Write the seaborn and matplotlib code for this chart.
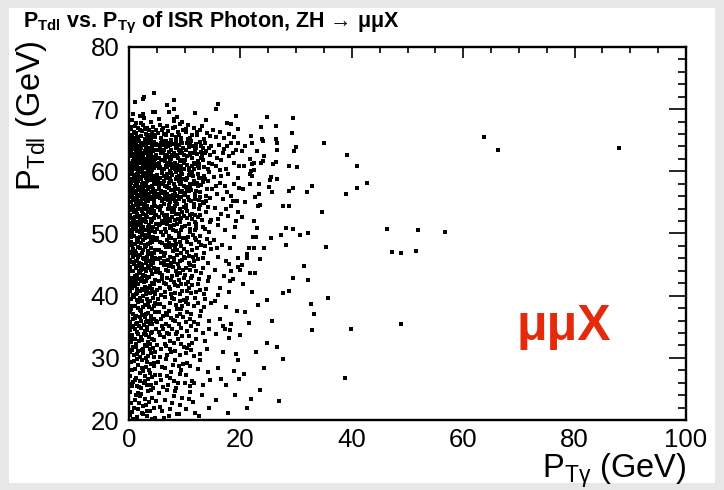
import numpy as np
import pandas as pd
import matplotlib
matplotlib.use("Agg")
import matplotlib.pyplot as plt
from matplotlib.ticker import MultipleLocator
from matplotlib.patches import Rectangle
import seaborn as sns

# ---------------- data (P_T gamma [GeV], P_T dilepton [GeV]) ----------------
core_a = [  # x 0-5, y >= 50
(4.4,72.6),(2.7,72.0),(2.5,71.6),(1.0,71.2),(0.7,69.2),(2.5,69.2),(4.3,69.6),(4.7,69.6),(2.7,68.5),
(0.3,66.8),(0.8,65.4),(1.2,66.1),(1.6,67.0),(2.1,65.7),(2.4,66.5),(2.9,65.2),(3.3,66.9),(3.7,65.9),(4.1,66.3),(4.6,65.5),(0.5,65.9),(1.0,67.3),(1.9,66.6),(2.6,67.4),(3.0,66.0),(3.5,65.4),(4.3,67.1),(4.8,66.6),(0.2,65.2),(1.4,65.6),(2.2,67.8),(3.9,68.0),(0.6,68.3),(1.7,65.1),(2.8,66.8),(3.2,65.6),(4.5,65.9),(0.9,66.4),(1.3,67.7),(0.4,67.2),(3.6,66.6),(2.0,68.9),(4.0,65.2),
(0.2,64.7),(0.5,63.9),(0.8,62.8),(1.1,64.2),(1.4,61.5),(1.7,63.4),(2.0,60.6),(2.3,62.1),(2.6,64.5),(2.9,61.2),(3.2,63.0),(3.5,60.3),(3.8,62.6),(4.1,64.0),(4.4,61.8),(4.7,63.5),(0.3,61.0),(0.6,60.2),(0.9,64.9),(1.2,60.9),(1.5,62.7),(1.8,64.8),(2.1,63.7),(2.4,60.1),(2.7,62.9),(3.0,64.1),(3.3,61.6),(3.6,63.8),(3.9,60.8),(4.2,62.3),(4.5,60.5),(4.8,64.4),(0.1,62.4),(0.4,63.1),(0.7,61.7),(1.0,63.6),(1.3,62.2),(1.6,60.4),(1.9,61.9),(2.2,64.3),(2.5,61.0),(2.8,63.3),(3.1,60.7),(3.4,62.4),(3.7,64.6),(4.0,61.3),(4.3,63.2),(4.6,62.0),(4.9,61.1),(0.4,64.3),(0.9,62.0),(1.3,63.9),(1.8,61.3),(2.2,62.6),(2.7,60.5),(3.1,62.0),(3.6,61.1),(4.0,63.4),(4.4,64.7),(0.6,62.6),(1.1,61.9),(1.5,64.0),(2.0,62.9),(2.4,63.0),(2.9,64.2),(3.3,64.9),(3.8,61.5),(4.2,60.2),(0.2,60.9),(0.8,60.5),(1.6,62.3),(2.6,61.6),(3.5,63.3),(4.7,60.9),(1.2,64.5),
(0.3,63.5),(0.7,64.1),(1.2,62.9),(1.7,60.1),(2.3,61.3),(2.8,64.7),(3.4,60.5),(3.9,62.9),(4.5,61.7),(0.5,61.4),(1.4,60.7),(2.1,60.3),(2.5,62.3),(3.0,63.6),(3.7,62.1),(4.1,60.6),(4.6,64.2),(0.1,63.8),(0.9,61.1),(1.9,63.1),(2.9,60.9),(3.2,64.5),(4.3,61.5),(4.8,62.7),(1.0,60.3),
(0.2,59.6),(0.5,57.3),(0.8,58.8),(1.1,55.4),(1.4,57.9),(1.7,56.2),(2.0,59.1),(2.3,55.8),(2.6,58.2),(2.9,56.7),(3.2,59.8),(3.5,55.2),(3.8,57.5),(4.1,58.6),(4.4,56.0),(4.7,59.3),
(0.1,56.4),(0.4,58.1),(0.7,55.7),(1.0,59.4),(1.3,56.8),(1.6,58.5),(1.9,55.1),(2.2,57.4),(2.5,59.7),(2.8,55.5),(3.1,57.8),(3.4,56.4),(3.7,59.0),(4.0,55.9),(4.3,57.2),(4.6,58.9),(4.9,56.3),
(0.3,55.1),(0.6,59.9),(0.9,56.9),(1.2,58.3),(1.5,55.6),(1.8,57.0),(2.1,58.7),(2.4,56.5),(2.7,57.6),(3.0,55.3),(3.3,58.4),(3.6,56.1),(3.9,59.5),(4.2,57.7),(4.5,55.4),(4.8,57.9),
(0.2,57.8),(0.6,56.6),(1.0,57.6),(1.3,59.0),(1.7,59.7),(2.0,56.0),(2.4,58.0),(2.7,59.2),(3.1,56.9),(3.5,58.6),(3.8,55.6),(4.2,59.2),(4.6,56.8),
(0.4,55.9),(0.8,57.1),(1.1,56.5),(1.5,59.5),(1.9,57.3),(2.3,59.9),(2.6,55.9),(3.0,58.9),(3.4,57.1),(3.9,56.7),(4.3,55.5),(4.7,58.1),
(0.1,58.7),(0.5,56.0),(0.9,59.2),(1.4,56.1),(1.8,58.9),(2.2,55.2),(2.5,57.1),(2.9,58.0),(3.2,55.8),(3.6,57.4),(4.0,59.7),(4.4,58.3),(4.9,59.0),
(0.3,57.0),(0.7,58.4),(1.2,55.0),(1.6,57.5),(2.1,56.3),(2.8,56.2),(3.3,59.3),(4.1,56.6),
(0.2,54.3),(0.6,51.7),(1.0,53.5),(1.4,50.4),(1.8,52.8),(2.2,54.7),(2.6,51.1),(3.0,53.0),(3.4,50.7),(3.8,54.0),(4.2,52.2),(4.6,50.2),
(0.4,52.5),(0.8,50.9),(1.2,54.8),(1.6,51.9),(2.0,53.9),(2.4,50.1),(2.8,52.4),(3.2,54.5),(3.6,51.4),(4.0,53.3),(4.4,54.9),(4.8,51.6),
(0.1,50.6),(0.5,53.8),(0.9,52.1),(1.3,51.2),(1.7,54.1),(2.1,51.5),(2.5,53.2),(2.9,50.5),(3.3,52.6),(3.7,53.7),(4.1,50.8),(4.5,53.6),(4.9,52.9),
(0.3,51.3),(0.7,54.5),(1.1,52.7),(1.5,53.1),(1.9,50.3),(2.3,52.0),(2.7,54.2),(3.1,51.8),(3.5,53.4),(3.9,52.3),(4.3,51.0),(4.7,54.4),
(0.2,52.9),(0.6,50.2),(1.0,51.6),(1.5,54.6),(2.0,52.5),(2.4,53.6),(2.9,54.8),(3.4,51.1),(3.9,50.4),(4.4,52.5),
(0.4,54.0),(0.9,53.4),(1.3,50.8),(1.8,51.4),(2.2,50.9),(2.6,52.3),(3.1,53.9),(3.6,50.0),(4.0,51.9),(4.6,53.0),
(0.8,52.2),(1.2,53.8),(1.7,52.6),(2.7,50.6),(3.3,54.3),(4.2,54.2),
]

core_b = [  # x 0-5, y < 50
(0.3,49.4),(0.7,46.2),(1.1,48.3),(1.5,45.5),(1.9,47.6),(2.3,49.8),(2.7,45.9),(3.1,48.0),(3.5,46.7),(3.9,49.1),(4.3,45.3),(4.7,47.4),
(0.1,47.1),(0.5,45.4),(0.9,49.6),(1.3,46.9),(1.7,48.8),(2.1,45.1),(2.5,47.3),(2.9,49.3),(3.3,45.7),(3.7,48.5),(4.1,46.4),(4.5,49.0),(4.9,45.9),
(0.2,45.8),(0.6,48.1),(1.0,46.6),(1.4,49.2),(1.8,45.2),(2.2,48.4),(2.6,46.1),(3.0,49.7),(3.4,47.2),(3.8,45.6),(4.2,48.7),(4.6,46.0),
(0.4,48.6),(0.8,47.5),(1.2,45.6),(1.6,47.9),(2.0,46.5),(2.4,45.0),(2.8,48.2),(3.2,46.3),(3.6,49.5),(4.0,47.7),(4.4,46.8),(4.8,48.9),
(0.3,46.9),(0.9,45.1),(1.4,48.6),(2.0,49.4),(2.6,48.9),(3.1,45.2),(3.7,46.9),(4.3,49.5),
(0.6,49.9),(1.1,47.2),(1.7,46.3),(2.3,46.9),(2.9,47.8),(3.5,48.3),(4.1,45.8),
(0.2,44.6),(0.6,41.3),(1.0,43.2),(1.4,40.5),(1.8,42.7),(2.2,44.1),(2.6,40.9),(3.0,42.3),(3.4,44.8),(3.8,41.6),(4.2,43.5),(4.6,40.2),
(0.4,42.8),(0.8,40.1),(1.2,44.4),(1.6,41.8),(2.0,43.7),(2.4,41.1),(2.8,44.3),(3.2,40.7),(3.6,43.0),(4.0,44.9),(4.4,41.9),(4.8,43.8),
(0.1,40.7),(0.5,43.9),(0.9,42.0),(1.3,40.3),(1.7,44.7),(2.1,42.4),(2.5,43.4),(2.9,41.4),(3.3,42.9),(3.7,40.4),(4.1,42.1),(4.5,44.5),
(0.3,41.9),(0.7,44.0),(1.1,41.5),(1.5,43.3),(1.9,40.8),(2.3,42.9),(2.7,42.2),(3.1,43.9),(3.5,41.2),(3.9,44.2),(4.3,40.6),(4.7,42.5),
(0.6,42.5),(1.2,42.6),(1.8,44.0),(2.4,44.7),(3.0,40.2),(3.6,44.4),(4.2,41.0),(4.9,44.1),(1.5,41.0),(2.9,43.1),
(0.3,39.5),(0.7,36.2),(1.1,38.4),(1.5,35.6),(1.9,37.7),(2.3,39.2),(2.7,35.3),(3.1,37.0),(3.5,38.8),(3.9,36.1),(4.3,39.7),(4.7,37.4),
(0.1,37.3),(0.5,35.1),(0.9,39.8),(1.3,36.8),(1.7,39.0),(2.1,35.9),(2.5,38.1),(2.9,36.5),(3.3,39.4),(3.7,35.4),(4.1,37.9),(4.5,36.3),(4.9,38.6),
(0.2,35.8),(0.6,38.3),(1.0,36.4),(1.4,39.3),(1.8,35.2),(2.2,37.5),(2.6,39.9),(3.0,35.7),(3.4,37.2),(3.8,39.1),(4.2,35.5),(4.6,38.9),
(0.4,37.9),(0.8,37.0),(1.2,35.4),(1.6,38.0),(2.0,36.6),(2.4,36.9),(2.8,38.5),(3.2,36.0),(3.6,38.2),(4.0,36.7),(4.4,38.4),(4.8,35.9),(1.9,39.6),(3.3,35.0),
(0.2,34.4),(0.6,31.2),(1.0,33.1),(1.4,30.6),(1.8,32.7),(2.2,34.8),(2.6,31.5),(3.0,33.6),(3.4,30.3),(3.8,32.2),(4.2,34.1),(4.6,31.0),
(0.4,32.5),(0.8,34.9),(1.2,31.7),(1.6,33.9),(2.0,30.2),(2.4,32.9),(2.8,34.3),(3.2,31.9),(3.6,33.3),(4.0,30.8),(4.4,32.8),(4.8,34.6),
(0.1,30.9),(0.5,33.7),(0.9,30.4),(1.3,32.3),(1.7,31.1),(2.1,33.4),(2.5,30.7),(2.9,32.0),(3.3,34.5),(3.7,31.4),(4.1,33.0),(4.5,30.1),
(0.3,33.2),(0.7,31.8),(1.5,34.2),(2.3,31.3),(2.7,33.8),(3.5,32.6),(4.3,31.6),(1.1,34.7),(3.9,34.0),
(0.3,29.3),(0.7,26.1),(1.1,28.2),(1.5,25.4),(1.9,27.6),(2.3,29.7),(2.7,25.9),(3.1,28.5),(3.5,26.6),(3.9,29.0),(4.3,25.2),(4.7,27.3),
(0.1,27.0),(0.5,25.5),(0.9,29.5),(1.3,26.8),(1.7,28.8),(2.1,25.1),(2.5,27.9),(2.9,26.3),(3.3,29.4),(3.7,27.5),(4.1,26.9),(4.5,28.7),
(0.2,25.8),(0.6,28.0),(1.0,26.5),(1.4,29.8),(2.0,26.2),(2.4,28.4),(2.8,27.1),(3.2,25.6),(3.6,28.1),(4.0,25.7),(4.4,29.2),(4.9,26.0),(1.8,25.3),(3.0,29.9),
(0.2,24.5),(0.6,21.3),(1.0,23.2),(1.4,20.5),(1.8,22.8),(2.2,24.2),(2.6,20.9),(3.0,22.4),(3.4,24.7),(3.8,21.5),(4.2,23.6),(4.6,20.3),
(0.4,22.7),(0.8,20.2),(1.2,24.0),(1.6,21.8),(2.0,23.8),(2.4,21.1),(2.8,23.3),(3.2,20.6),(3.6,22.9),(4.0,24.9),(4.4,21.9),(4.8,23.0),
(0.1,20.8),(0.9,22.0),(1.7,24.4),(2.5,22.3),(3.3,21.4),(4.1,20.1),
]

inner_a = [  # x 5-10, y >= 50
(8.0,71.4),(6.8,70.7),(8.1,70.0),(7.2,69.5),(5.3,68.4),(8.0,68.4),(8.1,68.1),(9.2,67.6),
(5.2,66.2),(5.7,65.3),(6.1,67.0),(6.6,65.8),(7.0,66.5),(7.5,65.1),(7.9,66.9),(8.4,65.6),(8.8,66.3),(9.3,65.4),(9.7,66.7),(5.5,67.5),(6.3,66.0),(6.9,67.3),(7.7,65.9),(8.2,67.2),(9.0,65.9),(9.5,67.9),(5.9,66.6),(8.6,68.7),
(5.1,64.2),(5.4,61.3),(5.8,63.0),(6.2,60.4),(6.5,62.7),(6.9,64.6),(7.3,61.0),(7.6,63.5),(8.0,60.8),(8.3,62.4),(8.7,64.1),(9.1,61.7),(9.4,63.2),(9.8,60.3),(5.3,62.1),(5.6,60.7),(6.0,64.8),(6.4,61.6),(6.7,63.9),(7.1,62.3),(7.4,60.1),(7.8,64.4),(8.2,61.4),(8.5,63.7),(8.9,60.6),(9.2,62.9),(9.6,64.5),(5.2,63.4),(5.7,61.9),(6.1,62.9),(6.6,60.9),(7.0,64.0),(7.5,62.0),(7.9,61.2),(8.4,64.9),(8.8,62.1),(9.3,60.9),(9.7,63.8),(5.5,64.0),(6.3,63.4),(6.8,61.4),(7.2,63.1),(7.7,60.5),(8.1,63.0),(8.6,61.0),(9.0,64.3),(9.5,61.9),(9.9,62.6),(5.9,60.2),(6.9,62.5),(7.6,64.8),(8.3,60.3),(9.4,64.8),(5.0,60.8),(6.2,64.3),
(5.3,60.5),(5.8,64.6),(6.4,62.0),(6.9,60.7),(7.3,64.2),(7.8,62.7),(8.2,64.4),(8.7,62.6),(9.1,60.2),(9.6,63.0),(5.6,63.6),(6.7,64.9),(7.4,61.7),(8.9,63.4),(9.9,61.3),
(5.1,59.4),(5.4,56.3),(5.8,58.1),(6.2,55.5),(6.5,57.7),(6.9,59.6),(7.3,56.0),(7.6,58.5),(8.0,55.8),(8.3,57.4),(8.7,59.1),(9.1,56.7),(9.4,58.2),(9.8,55.3),
(5.3,57.1),(5.6,55.7),(6.0,59.8),(6.4,56.6),(6.7,58.9),(7.1,57.3),(7.4,55.1),(7.8,59.4),(8.2,56.4),(8.5,58.7),(8.9,55.6),(9.2,57.9),(9.6,59.5),
(5.2,58.4),(5.7,56.9),(6.1,57.9),(6.6,55.9),(7.0,59.0),(7.5,57.0),(7.9,56.2),(8.4,59.9),(8.8,57.1),(9.3,55.9),(9.7,58.8),
(5.5,59.0),(6.3,58.4),(6.8,56.4),(7.2,58.1),(7.7,55.5),(8.1,58.0),(8.6,56.0),(9.0,59.3),(9.5,56.9),(9.9,57.6),
(5.0,55.8),(5.9,55.2),(6.2,59.3),(6.9,57.5),(7.6,59.8),(8.3,55.3),(9.4,59.8),(5.4,57.8),(6.5,56.2),(7.3,58.7),(8.0,57.0),(8.9,58.4),(9.8,56.5),(5.8,56.5),(7.0,55.4),(8.5,55.0),(9.1,58.9),
(5.2,54.2),(5.6,51.5),(6.0,53.3),(6.4,50.7),(6.8,52.9),(7.2,54.6),(7.6,51.2),(8.0,53.7),(8.4,50.4),(8.8,52.4),(9.2,54.0),(9.6,51.0),
(5.4,52.6),(5.8,50.2),(6.2,54.8),(6.6,51.9),(7.0,53.9),(7.4,50.9),(7.8,52.7),(8.2,54.4),(8.6,51.6),(9.0,53.1),(9.4,50.6),(9.8,52.8),
(5.1,50.8),(5.5,53.8),(5.9,52.0),(6.3,53.0),(6.7,50.3),(7.1,52.3),(7.5,54.1),(7.9,50.5),(8.3,52.1),(8.7,54.7),(9.1,51.8),(9.5,53.5),
(5.3,51.4),(6.1,51.7),(6.9,51.5),(7.7,53.4),(8.5,53.2),(9.3,52.5),(9.9,54.3),(5.7,54.5),(6.5,52.4),(7.3,52.0),(8.1,51.3),(8.9,50.1),
]

inner_b = [  # x 5-10, y < 50
(5.1,49.3),(5.5,46.1),(5.9,48.4),(6.3,45.6),(6.7,47.8),(7.1,49.6),(7.5,45.3),(7.9,47.2),(8.3,49.0),(8.7,46.5),(9.1,48.6),(9.5,45.8),(9.9,47.5),
(5.3,47.4),(5.7,45.2),(6.1,49.8),(6.5,46.8),(6.9,48.9),(7.3,46.2),(7.7,48.1),(8.1,45.4),(8.5,48.3),(8.9,49.5),(9.3,46.9),(9.7,49.2),
(5.2,45.9),(5.8,47.0),(6.4,48.2),(7.0,45.7),(7.6,49.3),(8.2,47.6),(8.8,45.1),(9.4,48.0),
(5.6,48.7),(6.2,46.4),(6.8,45.0),(7.4,47.9),(8.0,46.0),(8.6,47.3),(9.2,45.5),(9.8,46.3),(7.2,48.5),
(5.2,44.3),(5.6,41.2),(6.0,43.4),(6.4,40.6),(6.8,42.8),(7.2,44.7),(7.6,40.3),(8.0,42.2),(8.4,44.0),(8.8,41.5),(9.2,43.6),(9.6,40.8),
(5.4,42.4),(5.8,40.1),(6.2,44.9),(6.6,41.8),(7.0,43.9),(7.4,41.0),(7.8,43.1),(8.2,40.5),(8.6,43.3),(9.0,44.5),(9.4,41.9),(9.8,42.9),
(5.1,40.9),(5.9,42.7),(6.7,44.2),(7.5,42.5),(8.3,41.7),(9.1,40.2),(9.7,44.1),(5.5,43.7),(6.3,42.0),(7.1,41.4),(7.9,44.6),(8.9,42.6),
(5.2,39.4),(5.7,36.3),(6.2,38.2),(6.7,35.5),(7.2,37.6),(7.7,39.7),(8.2,35.9),(8.7,37.9),(9.2,39.1),(9.7,36.6),
(5.4,37.3),(5.9,35.1),(6.4,39.8),(6.9,36.9),(7.4,38.8),(7.9,36.1),(8.4,38.5),(8.9,35.4),(9.4,37.8),(9.9,39.3),
(5.1,35.7),(5.6,38.7),(6.1,36.7),(6.6,37.2),(7.1,35.2),(7.6,36.4),(8.1,39.5),(8.6,36.8),(9.1,37.0),(9.6,38.3),
(5.3,34.2),(5.8,31.4),(6.3,33.3),(6.8,30.5),(7.3,32.7),(7.8,34.6),(8.3,31.1),(8.8,33.0),(9.3,34.8),(9.8,31.8),
(5.1,32.1),(5.6,30.2),(6.1,34.7),(6.6,31.9),(7.1,33.8),(7.6,30.9),(8.1,32.4),(8.6,34.1),(9.1,30.4),(9.6,33.5),
(5.5,33.6),(6.4,32.3),(7.4,31.5),(8.4,33.9),(9.4,32.2),(6.9,34.0),
(5.2,29.3),(5.8,26.4),(6.4,28.3),(7.0,25.6),(7.6,27.7),(8.2,29.6),(8.8,26.0),(9.4,28.1),
(5.5,27.2),(6.1,25.3),(6.7,29.8),(7.3,26.8),(7.9,28.9),(8.5,25.1),(9.1,27.4),(9.7,29.0),
(5.9,28.6),(6.9,27.0),(8.0,26.3),(9.0,28.7),
(5.3,24.3),(5.9,21.4),(6.5,23.2),(7.1,20.6),(7.7,22.8),(8.3,24.6),(8.9,21.0),(9.5,23.5),
(5.6,22.1),(6.2,20.3),(6.8,24.8),(7.4,21.7),(8.0,23.9),(8.6,20.9),(9.2,22.4),
]

edge = [  # x 10-13.5, fading edge of the dense cloud
(10.1,61.8),(10.4,64.6),(10.7,60.6),(11.0,62.7),(11.3,65.9),(11.6,61.3),(11.9,63.4),(12.4,60.9),(12.9,62.2),(10.2,66.8),(10.9,63.0),(11.5,64.1),(12.2,66.3),(13.2,63.8),(10.6,65.2),(12.6,61.1),
(10.1,56.2),(10.5,58.9),(10.8,55.4),(11.2,57.0),(11.5,59.2),(11.9,56.0),(12.3,57.6),(12.8,55.8),(13.3,58.3),(10.3,57.5),(11.0,59.9),(11.7,58.5),(12.5,59.0),(10.7,56.9),
(10.1,51.2),(10.5,53.6),(10.9,50.7),(11.3,52.4),(11.7,54.3),(12.1,50.9),(12.7,52.9),(13.4,54.9),(10.3,54.6),(11.0,53.0),(11.9,51.8),
(10.1,46.0),(10.4,48.7),(10.8,45.3),(11.3,47.3),(11.8,49.2),(12.4,45.9),(13.0,48.1),(10.6,49.5),(11.5,46.2),(12.1,48.9),
(10.1,43.3),(10.5,40.8),(10.9,44.1),(11.4,41.7),(12.0,43.9),(12.7,40.9),(10.3,41.9),(11.2,42.9),
(10.2,35.8),(10.6,38.6),(11.1,37.1),(11.7,35.7),(12.4,38.9),(10.4,39.6),
(10.2,30.8),(10.7,33.5),(11.3,32.4),(12.1,34.5),(10.5,31.6),
(10.3,27.3),(10.9,28.7),(11.7,25.9),(10.1,25.9),
(10.2,21.8),(10.9,24.5),(11.5,22.9),
]

mid = [  # x 10-20
(11.8,69.4),(13.8,68.2),(15.1,66.7),(16.0,70.9),(15.6,70.0),(19.2,68.9),(17.6,67.8),(18.4,67.6),
(10.3,66.4),(10.9,65.3),(11.6,67.0),(12.2,65.8),(12.8,66.6),(13.4,65.2),(14.0,66.1),(14.6,65.7),(10.6,67.4),(13.1,67.3),
(15.6,65.6),(16.4,66.4),(17.1,65.3),(18.0,66.0),(18.9,65.5),(19.5,66.8),
(10.2,63.5),(10.5,61.0),(10.9,64.2),(11.3,62.1),(11.7,60.4),(12.0,63.8),(12.4,61.6),(12.8,64.7),(13.1,62.5),(13.5,60.7),(13.9,63.3),(14.3,61.4),(14.7,64.0),(10.4,62.4),(10.8,60.2),(11.1,64.9),(11.5,63.0),(11.9,61.2),(12.2,62.8),(12.6,60.5),(13.0,64.1),(13.3,61.9),(13.7,62.9),(14.1,60.3),(14.5,62.6),(14.9,61.1),(10.7,63.9),(11.4,60.9),(12.1,64.4),(12.9,63.1),(13.6,64.6),(14.4,63.7),
(15.2,63.1),(15.6,60.8),(16.1,64.3),(16.5,61.9),(17.0,63.6),(17.4,60.4),(17.9,62.5),(18.3,64.5),(18.8,61.3),(19.2,63.4),(19.7,60.9),(15.8,62.2),(16.8,62.9),(17.6,64.1),(18.6,62.9),(19.5,64.6),(16.3,60.2),
(10.2,58.6),(10.6,55.9),(11.0,57.4),(11.4,59.7),(11.8,56.3),(12.2,58.1),(12.6,55.4),(13.0,57.8),(13.4,59.2),(13.8,56.0),(14.2,58.4),(14.6,55.7),(14.9,57.1),
(10.4,56.8),(10.8,59.4),(11.2,55.2),(11.6,58.0),(12.0,56.9),(12.4,59.5),(12.8,56.6),(13.2,55.1),(13.6,58.7),(14.0,57.2),(14.4,59.9),(10.9,57.9),(11.9,55.6),(12.9,59.0),(13.9,55.3),
(15.3,59.1),(15.8,56.4),(16.3,58.2),(16.8,55.6),(17.3,57.7),(17.8,59.6),(18.3,56.1),(18.8,58.0),(19.3,55.3),(19.8,57.3),(15.6,57.6),(16.6,59.3),(17.6,56.7),(18.6,55.2),(19.6,59.0),
(10.3,54.1),(10.8,51.6),(11.3,53.2),(11.8,50.5),(12.3,52.7),(12.8,54.6),(13.3,51.0),(13.8,53.5),(14.3,50.3),(14.8,52.2),
(10.5,52.5),(11.0,50.2),(11.6,54.8),(12.1,51.5),(12.6,53.9),(13.1,52.1),(13.6,50.8),(14.1,54.3),(14.6,51.8),(11.9,53.0),
(15.4,54.1),(16.0,51.4),(16.6,53.2),(17.2,50.6),(17.8,52.8),(18.4,54.5),(19.0,51.0),(19.6,53.4),(15.9,52.4),(17.5,54.0),(19.2,52.0),
(10.2,49.2),(10.7,46.4),(11.2,48.3),(11.7,45.5),(12.2,47.7),(12.7,49.6),(13.2,46.0),(13.7,48.0),(14.2,45.3),(14.7,47.5),
(10.5,47.1),(11.0,45.0),(11.5,49.8),(12.0,46.6),(12.5,48.6),(13.5,46.9),(14.0,49.1),(14.5,48.4),
(15.3,49.0),(16.0,46.3),(16.7,48.2),(17.4,45.6),(18.1,47.7),(18.8,49.5),(19.5,46.0),(15.8,47.6),(17.9,45.1),
(10.3,44.4),(10.8,41.3),(11.4,43.2),(12.0,40.6),(12.6,42.7),(13.2,44.5),(13.8,41.1),(14.4,43.0),
(10.6,42.2),(11.1,40.4),(11.7,44.8),(12.3,41.8),(12.9,43.6),(13.5,40.2),(14.1,42.4),
(15.5,44.2),(16.3,41.3),(17.1,43.1),(17.9,40.6),(18.7,42.7),(19.5,44.6),(16.0,40.1),(18.3,44.0),(18.1,42.4),
(10.2,39.0),(10.9,36.2),(11.6,38.4),(12.3,35.5),(13.0,37.6),(13.7,39.5),(14.4,36.0),
(10.5,37.3),(11.2,35.1),(11.9,39.7),(12.7,36.8),(13.4,38.1),(14.7,38.8),
(15.4,39.2),(16.4,36.3),(17.4,38.1),(18.4,35.5),(19.4,37.5),(16.9,35.1),
(10.4,34.3),(11.2,31.2),(12.0,33.1),(12.8,30.6),(13.6,32.7),(14.4,34.6),(10.8,32.0),(11.6,30.3),(13.2,34.0),(14.0,31.5),
(15.6,33.8),(16.8,31.0),(18.0,33.2),(19.2,30.6),(17.3,34.6),(18.1,34.5),
(10.5,29.1),(11.4,26.3),(12.3,28.2),(13.2,25.6),(14.1,27.8),(10.9,25.4),(12.7,29.6),(14.6,26.5),
(15.9,28.4),(17.4,25.7),(18.9,27.9),(16.6,26.6),
(10.7,23.4),(11.9,21.2),(13.1,24.1),(14.3,22.0),(12.5,20.6),
(15.7,23.2),(17.8,21.1),(19.1,24.0),
]

tail = [  # x 20-33
(24.8,68.8),(29.4,68.6),(23.7,67.1),(26.4,67.3),(29.3,66.1),(21.9,65.7),(23.8,65.2),(26.4,65.2),
(22.1,64.6),(24.0,64.9),(26.6,64.5),(30.0,63.9),(29.7,63.3),(23.0,63.2),(26.6,63.4),(24.2,62.4),(21.7,62.0),(22.4,61.4),(22.1,61.1),(23.7,61.3),(24.1,61.7),(25.8,61.1),(26.4,61.5),(28.7,60.8),(30.2,60.7),(21.9,60.1),(22.5,60.2),(21.8,59.5),(22.0,59.3),(25.5,59.1),(25.3,58.6),(26.6,58.8),(23.4,58.0),(21.8,58.0),(25.1,57.5),(25.7,56.7),(29.4,57.3),(28.8,56.8),(23.3,56.4),(22.7,55.8),(23.6,54.6),(23.2,54.4),(27.6,54.4),(28.7,54.4),(22.4,52.0),(23.0,50.9),(28.1,50.9),(29.5,50.7),
(20.3,63.2),(20.6,60.9),(20.4,57.2),(20.8,55.1),(20.2,52.6),(20.9,64.1),
(22.2,49.5),(22.8,49.5),(25.5,49.2),(27.3,49.8),(28.2,48.2),(21.6,47.7),(22.5,47.7),(24.2,47.7),(21.2,46.7),(21.2,46.1),(23.5,45.9),(20.2,45.0),(20.0,44.2),(22.6,43.6),(21.8,43.6),(22.0,40.6),
(29.5,42.9),(27.7,40.4),(28.7,40.7),(24.7,39.3),(20.8,37.3),(24.7,32.4),(26.5,31.8),(27.6,29.8),(24.3,28.3),(19.8,26.6),(23.5,24.9),(27.0,23.1),(21.2,21.9),(19.9,33.6),(19.6,29.7),
(20.5,41.8),(23.2,38.5),(21.5,35.6),(22.8,30.9),(20.7,27.4),(25.6,36.0),(21.9,23.3),
]

far = [  # isolated points
(63.8,65.6),(66.2,63.4),(88.0,63.8),(35.0,64.5),(39.1,62.7),(40.9,60.8),(42.7,58.1),(40.9,57.3),(38.9,56.4),(32.9,57.6),(31.9,56.7),(34.7,53.5),(46.3,50.7),(51.8,50.6),(56.8,50.3),(47.2,47.1),(48.8,46.9),(51.6,47.2),(32.1,50.1),(30.7,49.7),(35.3,47.9),(31.4,44.8),(32.2,42.5),(35.7,39.7),(32.6,38.6),(33.2,37.1),(32.8,34.4),(39.9,34.7),(48.8,35.4),(38.7,26.7),
]

x_ticks = [0, 20, 40, 60, 80, 100]
y_ticks = [20, 30, 40, 50, 60, 70, 80]
title_text = r'P$_{\mathbf{Tdl}}$ vs. P$_{\mathbf{Tγ}}$ of ISR Photon, ZH → μμX'
xlabel_text = r'P$_{\mathregular{Tγ}}$ (GeV)'
ylabel_text = r'P$_{\mathregular{Tdl}}$ (GeV)'
channel_text = 'μμX'

# ---------------- style ----------------
sns.set_style("white")
plt.rcParams['font.family'] = ['Liberation Sans', 'DejaVu Sans']
plt.rcParams['mathtext.fontset'] = 'custom'
plt.rcParams['mathtext.rm'] = 'Liberation Sans'
plt.rcParams['mathtext.bf'] = 'Liberation Sans:bold'
plt.rcParams['mathtext.it'] = 'Liberation Sans:italic'
plt.rcParams['text.color'] = 'black'
plt.rcParams['xtick.color'] = 'black'
plt.rcParams['ytick.color'] = 'black'
plt.rcParams['axes.labelcolor'] = 'black'

W, H = 724, 490
fig = plt.figure(figsize=(W / 100, H / 100), dpi=100)
fig.patch.set_facecolor('#e7e7e7')
fig.patches.append(Rectangle((9 / W, 1 - 483 / H), (715 - 9) / W, (483 - 8) / H,
                             transform=fig.transFigure, facecolor='white',
                             edgecolor='none', zorder=-5))

ax = fig.add_axes([129 / W, 1 - 420 / H, (686 - 129) / W, (420 - 47) / H])
ax.set_zorder(2)
ax.set_facecolor('white')

df = pd.DataFrame(core_a + core_b + inner_a + inner_b + edge + mid + tail + far,
                  columns=['pt_gamma', 'pt_dl'])
sns.scatterplot(data=df, x='pt_gamma', y='pt_dl', ax=ax, color='black', s=5.0,
                linewidth=0, marker='s', legend=False, zorder=3)

ax.set_xlim(0, 100)
ax.set_ylim(20, 80)
ax.set_xticks(x_ticks)
ax.set_yticks(y_ticks)
ax.xaxis.set_minor_locator(MultipleLocator(5))
ax.yaxis.set_minor_locator(MultipleLocator(2))
ax.set_xlabel('')
ax.set_ylabel('')
ax.tick_params(which='both', direction='in', top=True, right=True, width=1.2,
               color='black', labelcolor='black', labelsize=18.5)
ax.tick_params(axis='x', which='major', length=8, pad=6)
ax.tick_params(axis='x', which='minor', length=4)
ax.tick_params(axis='y', which='major', length=12, pad=7)
ax.tick_params(axis='y', which='minor', length=6)
for sp in ax.spines.values():
    sp.set_linewidth(1.7)
    sp.set_color('black')
    sp.set_visible(True)

ax.text(69.5, 32.9, channel_text, color='#e52a0c', fontsize=36, fontweight='bold',
        ha='left', va='baseline', zorder=4)

fig.text(23 / W, 1 - 27 / H, title_text, fontsize=15.5, fontweight='bold',
         color='black', ha='left', va='baseline', zorder=3)
fig.text(686 / W, 1 - 478 / H, xlabel_text, fontsize=23.5, color='black',
         ha='right', va='baseline', zorder=3)
fig.text(40 / W, 1 - 40 / H, ylabel_text, fontsize=23.5, rotation=90, color='black',
         rotation_mode='anchor', ha='right', va='baseline', zorder=3)

fig.savefig('out.png', dpi=100, facecolor=fig.get_facecolor())
